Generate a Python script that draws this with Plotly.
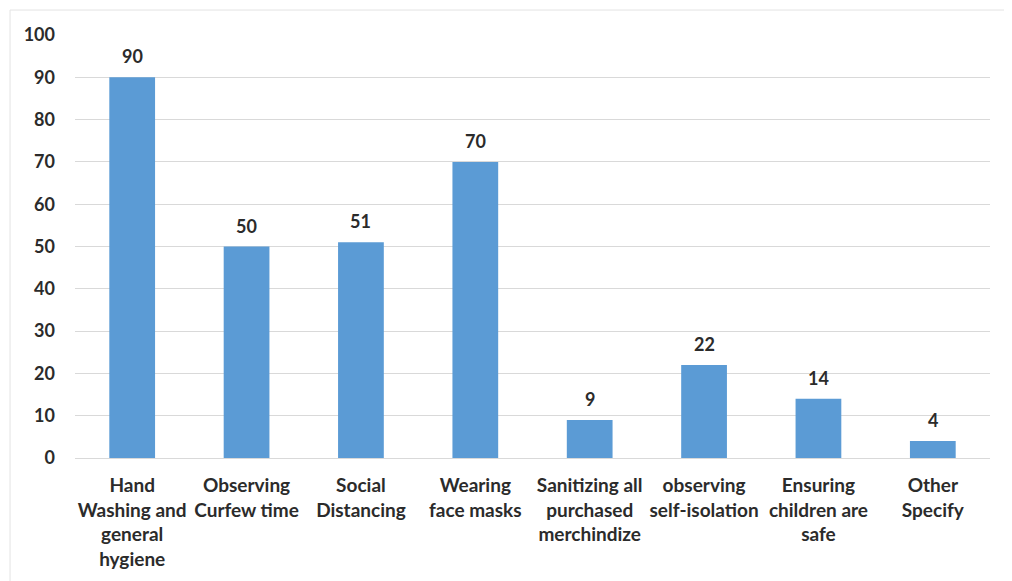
import plotly.graph_objects as go

categories = [
    "Hand<br>Washing and<br>general<br>hygiene",
    "Observing<br>Curfew time",
    "Social<br>Distancing",
    "Wearing<br>face masks",
    "Sanitizing all<br>purchased<br>merchindize",
    "observing<br>self-isolation",
    "Ensuring<br>children are<br>safe",
    "Other<br>Specify",
]
values = [90, 50, 51, 70, 9, 22, 14, 4]
y_ticks = list(range(0, 101, 10))

FONT = "Lato"
TXT = "#2b2b2b"

fig = go.Figure(
    go.Bar(
        x=categories,
        y=values,
        marker=dict(color="#5B9BD5", line=dict(width=0)),
        width=0.4,
        cliponaxis=False,
        hoverinfo="x+y",
    )
)

for c, v in zip(categories, values):
    fig.add_annotation(
        x=c, y=v, text=str(v), showarrow=False,
        yanchor="bottom", yshift=8,
        font=dict(family=FONT, size=18, color=TXT, weight="bold"),
    )

fig.update_layout(
    width=1012,
    height=581,
    margin=dict(l=67, r=30, t=27, b=131),
    paper_bgcolor="white",
    plot_bgcolor="white",
    showlegend=False,
    font=dict(family=FONT, size=18, color=TXT),
    shapes=[
        dict(
            type="rect", xref="paper", yref="paper",
            x0=-0.071, x1=1.06, y0=-0.5, y1=1.059,
            line=dict(color="#e3e3e3", width=1),
        )
    ],
)

fig.update_xaxes(
    tickfont=dict(family=FONT, size=19, color=TXT, weight="bold"),
    showgrid=False,
    showline=True,
    linecolor="#d9d9d9",
    linewidth=1,
    ticks="",
    ticklabelstandoff=10,
    automargin=False,
)
fig.update_yaxes(
    range=[0, 100],
    tickvals=y_ticks,
    tickfont=dict(family=FONT, size=18, color=TXT, weight="bold"),
    showgrid=True,
    gridcolor="#d9d9d9",
    gridwidth=1,
    zeroline=False,
    showline=False,
    ticks="",
    ticklabelstandoff=19,
    automargin=False,
)

fig.write_html("out.html")
